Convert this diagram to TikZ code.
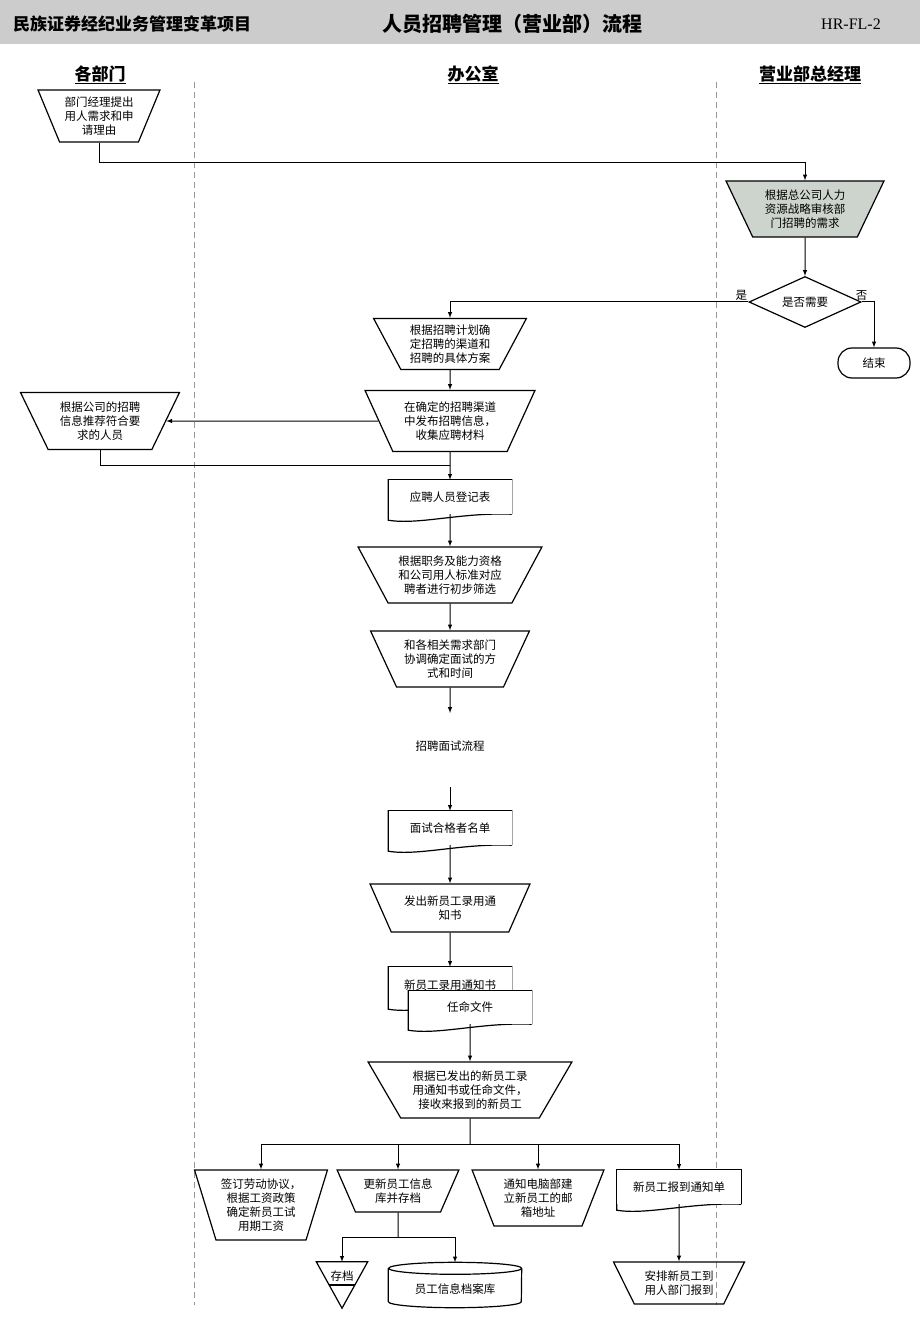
\documentclass[tikz,border=0pt]{standalone}
\usepackage{fontspec}
\setmainfont{Liberation Serif}
\newfontfamily\cjk{Noto Sans CJK SC}
\usetikzlibrary{shapes.geometric,positioning,calc}
\definecolor{band}{RGB}{204,204,204}
\definecolor{audit}{RGB}{205,211,205}
\definecolor{lane}{RGB}{150,150,150}

\tikzset{
  every node/.style={font=\fontsize{11.5}{14}\cjk, align=center},
  line/.style={line width=1pt},
  flow/.style={line width=1pt, -latex},
  opbox/.style={trapezium, trapezium stretches=true, trapezium angle=120, draw, line width=1.2pt, inner sep=0pt},
  docbox/.style={minimum width=123pt, minimum height=34pt, inner sep=0pt, fill=white,
    append after command={\pgfextra{\draw[line width=1.2pt] (\tikzlastnode.south east) -- (\tikzlastnode.north east) -- (\tikzlastnode.north west) -- ([yshift=-6pt]\tikzlastnode.south west) .. controls +(30pt,-5pt) and +(-50pt,2pt) .. (\tikzlastnode.south east);}}},
  lanehead/.style={font=\fontsize{17}{20}\cjk\bfseries},
}

\begin{document}
\begin{tikzpicture}[x=1pt, y=-1pt]
\useasboundingbox (0,0) rectangle (920,1329);

% Header
\fill[band] (0,0) rectangle (920,44);
\node[font=\fontsize{17}{20}\cjk\bfseries] (project) at (132,24) {民族证券经纪业务管理变革项目};
\node[font=\fontsize{20}{24}\cjk\bfseries] (title) at (512,24) {人员招聘管理（营业部）流程};
\node[font=\fontsize{16}{18}\rmfamily] (code) at (851,24) {HR-FL-2};

% Lanes
\foreach \x in {194,716}{
    \draw[lane, dashed, dash pattern=on 6pt off 4pt] (\x,82) -- (\x,1305);
}
\foreach \x/\t/\n in {100/各部门/dept, 473/办公室/office, 810/营业部总经理/mgr}{
    \node[lanehead] (\n) at (\x,75) {\underline{\t}};
}

% Request and review
\node[opbox, minimum width=122pt, minimum height=52pt, trapezium angle=116] (n1) at (99,116) {部门经理提出\\用人需求和申\\请理由};
\node[opbox, fill=audit, minimum width=158pt, minimum height=56pt, trapezium angle=118] (n2) at (805,209) {根据总公司人力\\资源战略审核部\\门招聘的需求};
\node[draw, diamond, aspect=2.2, minimum width=112pt, minimum height=51pt, inner sep=0pt, line width=1.2pt] (dec) at (805,302) {是否需要};
\node[draw, rounded corners=14pt, minimum width=72pt, minimum height=30pt, line width=1.2pt] (stop) at (874,363) {结束};
\node[inner sep=1pt, above left=0pt of dec.west] (yes) {是};
\node[inner sep=1pt, above=0pt of dec.east] (no) {否};

\draw[flow] (n1.south) -- ++(0,20) -| (n2.north);
\draw[flow] (n2.south) -- (dec.north);
\draw[flow] (dec.east) -| (stop.north);

% Channels
\node[opbox, minimum width=153pt, minimum height=51pt, trapezium angle=120] (n3) at (450,344) {根据招聘计划确\\定招聘的渠道和\\招聘的具体方案};
\node[opbox, minimum width=170pt, minimum height=61pt, trapezium angle=120] (n4) at (450,421) {在确定的招聘渠道\\中发布招聘信息，\\收集应聘材料};
\node[opbox, minimum width=159pt, minimum height=57pt, trapezium angle=119] (n5) at (100,421) {根据公司的招聘\\信息推荐符合要\\求的人员};
\node[docbox] (n6) at (450,497) {应聘人员登记表};
\coordinate (merge) at (450,465);

\draw[flow] (dec.west) -| (n3.north);
\draw[flow] (n3.south) -- (n4.north);
\draw[flow] (n4.west) -- (n5.east);
\draw[line] (n5.south) |- (merge);
\draw[flow] (n4.south) -- (n6.north);

% Screening and interview
\node[opbox, minimum width=184pt, minimum height=56pt, trapezium angle=123] (n7) at (450,575) {根据职务及能力资格\\和公司用人标准对应\\聘者进行初步筛选};
\node[opbox, minimum width=159pt, minimum height=56pt, trapezium angle=120] (n8) at (450,659) {和各相关需求部门\\协调确定面试的方\\式和时间};
\coordinate (gap1) at (450,713);
\node (interview) at (450,746) {招聘面试流程};
\coordinate (gap2) at (450,787);
\node[docbox] (n9) at (450,828) {面试合格者名单};

\draw[flow] (n6.south) -- (n7.north);
\draw[flow] (n7.south) -- (n8.north);
\draw[flow] (n8.south) -- (gap1);
\draw[flow] (gap2) -- (n9.north);

% Offer
\node[opbox, minimum width=160pt, minimum height=48pt, trapezium angle=124] (n10) at (450,908) {发出新员工录用通\\知书};
\node[docbox, minimum height=36pt] (n11) at (450,985) {新员工录用通知书};
\node[docbox, minimum height=33pt] (n12) at (470,1007.5) {任命文件};
\node[opbox, minimum width=204pt, minimum height=56pt, trapezium angle=125] (n13) at (470,1090) {根据已发出的新员工录\\用通知书或任命文件，\\接收来报到的新员工};

\draw[flow] (n9.south) -- (n10.north);
\draw[flow] (n10.south) -- (n11.north);
\draw[flow] (n12.south) -- (n13.north);

% Follow-up
\coordinate (fork) at (470,1144);
\node[opbox, minimum width=133pt, minimum height=70pt, trapezium angle=110] (b1) at (261,1205) {签订劳动协议，\\根据工资政策\\确定新员工试\\用期工资};
\node[opbox, minimum width=122pt, minimum height=42pt, trapezium angle=121] (b2) at (398,1191) {更新员工信息\\库并存档};
\node[opbox, minimum width=132pt, minimum height=56pt, trapezium angle=114] (b3) at (538,1198) {通知电脑部建\\立新员工的邮\\箱地址};
\node[docbox, minimum width=124pt, minimum height=34pt] (b4) at (679,1187) {新员工报到通知单};
\node[opbox, minimum width=131pt, minimum height=42pt, trapezium angle=123] (b5) at (679,1283) {安排新员工到\\用人部门报到};

\draw[line] (n13.south) -- (fork);
\foreach \b in {b1,b2,b3,b4}{
    \draw[flow] (fork) -| (\b.north);
}
\draw[flow] (b4.south) -- (b5.north);

% Archive
\coordinate (fork2) at (398,1237);
\node[minimum width=51pt, minimum height=46pt, inner sep=0pt] (st) at (342,1285) {};
\node (stlabel) at ([yshift=9pt]st.center) {存档};
\draw[line width=1.2pt] (st.north west) -- (st.north east) -- (st.south) -- cycle;
\draw[line width=1.2pt] ($(st.north west)!0.5!(st.south)$) -- ($(st.north east)!0.5!(st.south)$);
\node[minimum width=133pt, minimum height=45pt, inner sep=0pt] (db) at (455,1285) {};
\node (dblabel) at ([yshift=-4pt]db.center) {员工信息档案库};
\draw[line width=1.2pt] ([yshift=-6pt]db.north west) -- ([yshift=6pt]db.south west) arc[start angle=180, end angle=360, x radius=66.5pt, y radius=6pt] -- ([yshift=-6pt]db.north east) arc[start angle=0, end angle=360, x radius=66.5pt, y radius=6pt];

\draw[line] (b2.south) -- (fork2);
\draw[flow] (fork2) -| (st.north);
\draw[flow] (fork2) -| (db.north);

\end{tikzpicture}
\end{document}
